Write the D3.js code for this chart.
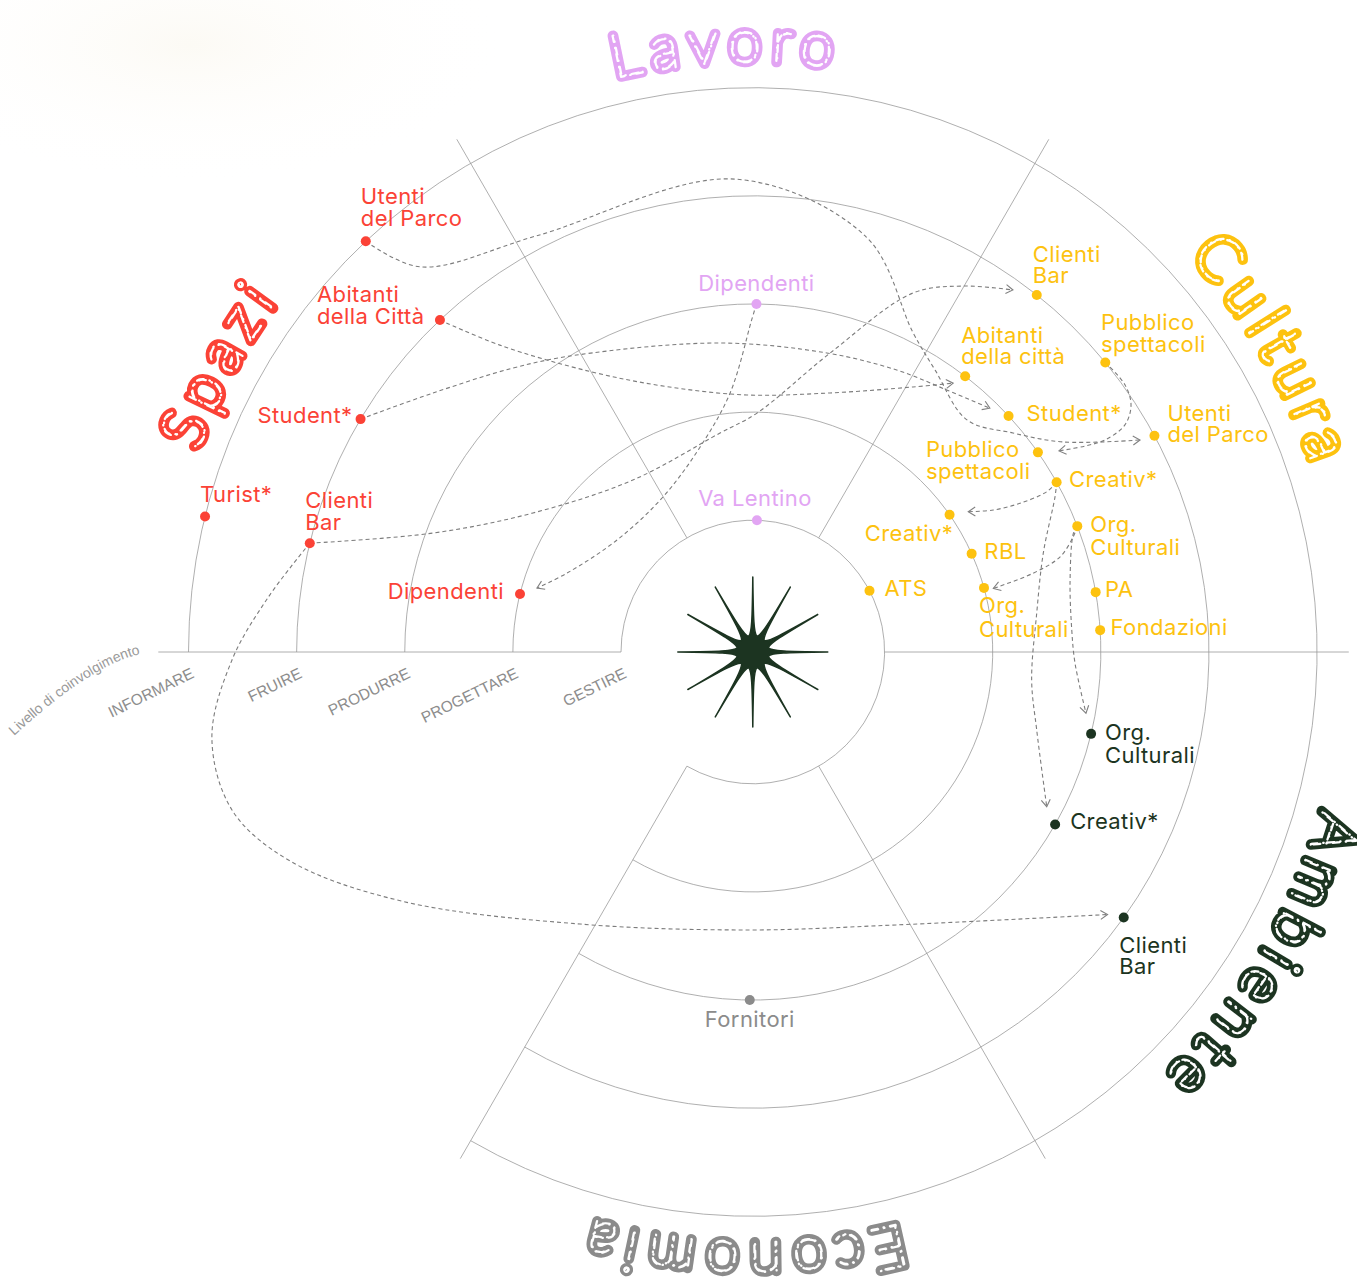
<!DOCTYPE html>
<html>
<head>
<meta charset="utf-8">
<script src="https://cdn.jsdelivr.net/npm/d3@7"></script>
<style>
	body { margin: 0; background: #fff; }
	#contents svg { display: block; }
</style>
</head>
<body>
<div id="contents"></div>
<script>
// livelli di coinvolgimento, dal centro verso l'esterno
var levels = ["GESTIRE", "PROGETTARE", "PRODURRE", "FRUIRE", "INFORMARE"];

var sectors = ["Spazi", "Lavoro", "Cultura", "Ambiente", "Economia"];
var sectorColors = ["#fb4236", "#e2a5f3", "#fdc20f", "#1c3421", "#8b8b8b"];

// nodi: [id, etichetta, livello, angolo (gradi)]
var spaziNodes = [
	["s_utenti", "Utenti\ndel Parco", "INFORMARE", 133.3],
	["s_abitanti", "Abitanti\ndella Città", "FRUIRE", 133.3],
	["s_student", "Student*", "FRUIRE", 149.3],
	["s_turist", "Turist*", "INFORMARE", 166.1],
	["s_clienti", "Clienti\nBar", "FRUIRE", 166.2],
	["s_dipendenti", "Dipendenti", "PROGETTARE", 166.0]
];
var lavoroNodes = [
	["l_dipendenti", "Dipendenti", "PRODURRE", 89.4],
	["l_valentino", "Va Lentino", "GESTIRE", 88.2]
];
var culturaNodes = [
	["c_clienti", "Clienti\nBar", "FRUIRE", 51.5],
	["c_pubblico1", "Pubblico\nspettacoli", "FRUIRE", 39.4],
	["c_utenti", "Utenti\ndel Parco", "FRUIRE", 28.3],
	["c_abitanti", "Abitanti\ndella città", "PRODURRE", 52.4],
	["c_student", "Student*", "PRODURRE", 42.7],
	["c_pubblico2", "Pubblico\nspettacoli", "PRODURRE", 35.0],
	["c_creativ1", "Creativ*", "PRODURRE", 29.2],
	["c_org1", "Org.\nCulturali", "PRODURRE", 21.2],
	["c_pa", "PA", "PRODURRE", 9.9],
	["c_fondazioni", "Fondazioni", "PRODURRE", 3.6],
	["c_creativ2", "Creativ*", "PROGETTARE", 34.9],
	["c_rbl", "RBL", "PROGETTARE", 24.2],
	["c_org2", "Org.\nCulturali", "PROGETTARE", 15.5],
	["c_ats", "ATS", "GESTIRE", 27.7]
];
var ambienteNodes = [
	["a_org", "Org.\nCulturali", "PRODURRE", -13.6],
	["a_creativ", "Creativ*", "PRODURRE", -29.7],
	["a_clienti", "Clienti\nBar", "FRUIRE", -35.6]
];
var economiaNodes = [
	["e_fornitori", "Fornitori", "PRODURRE", -90.5]
];

// collegamenti: [da, a, punti intermedi [angolo, livello]] (l'ultimo punto e' la punta della freccia)
var links = [
	["s_utenti", "c_utenti", [[130.8, 3.486], [117.5, 3.119], [92.2, 3.158], [74.7, 2.760], [63.3, 2.083], [57.1, 1.886], [47.3, 1.702], [40.1, 1.926], [34.1, 2.246], [28.7, 2.864]]],
	["s_abitanti", "c_abitanti", [[129.5, 2.459], [120.1, 1.779], [107.9, 1.360], [91.3, 1.159], [73.4, 1.281], [58.85, 1.645], [53.3, 1.882]]],
	["s_student", "c_student", [[141.0, 2.587], [130.2, 2.219], [120.7, 1.975], [96.1, 1.655], [76.1, 1.630], [62.96, 1.709], [53.5, 1.796], [45.8, 1.926]]],
	["s_clienti", "c_clienti", [[159.6, 1.937], [147.7, 1.187], [124.9, 0.720], [98.5, 0.829], [89.0, 0.991], [75.5, 1.637], [65.95, 2.417], [60.1, 2.685], [54.3, 2.904]]],
	["s_clienti", "a_clienti", [[173.6, 3.293], [180.9, 3.599], [189.0, 3.846], [196.9, 3.814], [204.3, 3.477], [215.4, 2.760], [237.6, 1.761], [269.4, 1.352], [297.7, 1.632], [323.5, 2.863]]],
	["l_dipendenti", "s_dipendenti", [[90.2, 1.852], [95.0, 1.186], [104.4, 0.739], [120.1, 0.438], [140.5, 0.409], [157.0, 0.648], [163.5, 0.863]]],
	["c_pubblico1", "c_pubblico2", [[35.65, 3.018], [33.15, 2.959], [31.4, 2.813], [31.05, 2.583], [31.8, 2.396], [33.3, 2.169]]],
	["c_creativ1", "c_creativ2", [[28.6, 1.877], [29.1, 1.609], [30.56, 1.364], [33.07, 1.159]]],
	["c_org1", "c_org2", [[19.8, 1.931], [17.2, 1.756], [15.7, 1.475], [14.8, 1.082]]],
	["c_creativ1", "a_creativ", [[27.2, 1.924], [18.8, 1.619], [7.76, 1.431], [-5.73, 1.373], [-15.36, 1.504], [-27.76, 1.853]]],
	["c_org1", "a_org", [[20.3, 1.942], [12.79, 1.790], [3.95, 1.738], [-2.0, 1.763], [-10.4, 1.914]]]
];

// posizione dei titoli (angolo del centro) e delle etichette
var titleAngles = [151.5, 92.5, 30, -31, -91];
var labelPos = {
	s_utenti: [-5, -37, "start"], s_abitanti: [-123, -18, "start"], s_student: [-8, 4, "end"],
	s_turist: [-5, -14, "start"], s_clienti: [-4.5, -35, "start"], s_dipendenti: [-16, 5, "end"],
	l_dipendenti: [0, -13, "middle"], l_valentino: [-2, -14, "middle"],
	c_clienti: [-4, -33, "start"], c_pubblico1: [-4.3, -32, "start"], c_utenti: [13, -15, "start"],
	c_abitanti: [-4, -33.4, "start"], c_student: [18, 5, "start"], c_pubblico2: [-112, 5, "start"],
	c_creativ1: [12.4, 5, "start"], c_org1: [13, 6, "start", 23], c_pa: [9.3, 5, "start"],
	c_fondazioni: [10.4, 5, "start"], c_creativ2: [3.6, 26, "end"], c_rbl: [12.7, 5, "start"],
	c_org2: [-5, 25.6, "start", 24], c_ats: [15, 5, "start"],
	a_org: [14, 6, "start", 23.5], a_creativ: [15, 5, "start"], a_clienti: [-4.4, 35, "start"],
	e_fornitori: [0, 27, "middle"]
};

var W = 1357, H = 1283;
var cx = 752.8, cy = 652;
var rScale = d3.scaleLinear().domain([0, levels.length - 1]).range([131.8, 564.3]);

function polar(a, lvl) {
	var r = rScale(lvl), t = a * Math.PI / 180;
	return [cx + r * Math.cos(t), cy - r * Math.sin(t)];
}

var svg = d3.select("#contents")
	.append("svg")
	.attr("width", W)
	.attr("height", H);

var defs = svg.append("defs");

// leggera macchia in alto a sinistra
var grad = defs.append("radialGradient").attr("id", "haze");
grad.append("stop").attr("offset", "0%").attr("stop-color", "#f9f5ea").attr("stop-opacity", 0.5);
grad.append("stop").attr("offset", "100%").attr("stop-color", "#fff").attr("stop-opacity", 0);
svg.append("ellipse")
	.attr("cx", 190).attr("cy", 45).attr("rx", 320).attr("ry", 140)
	.attr("fill", "url(#haze)");

defs.append("marker")
	.attr("id", "arrow")
	.attr("viewBox", "-10 -6 12 12")
	.attr("refX", 0).attr("refY", 0)
	.attr("markerWidth", 12).attr("markerHeight", 12)
	.attr("markerUnits", "userSpaceOnUse")
	.attr("orient", "auto")
	.append("path")
	.attr("d", "M-7,-4.5L0,0L-7,4.5")
	.attr("fill", "none")
	.attr("stroke", "#808080")
	.attr("stroke-width", 1.1);

// anelli (manca lo spicchio in basso a sinistra)
var rings = svg.append("g");
levels.forEach(function(l, i) {
	var r = rScale(i);
	var p = d3.path();
	p.moveTo(cx - r, cy);
	p.arc(cx, cy, r, Math.PI, Math.PI + 5 * Math.PI / 3, false);
	rings.append("path")
		.attr("d", p.toString())
		.attr("fill", "none")
		.attr("stroke", "#9a9a9a")
		.attr("stroke-width", 0.8);
});

// divisori tra i settori
var dividers = [[60, 592], [120, 592], [240, 585], [300, 585], [0, 596], [180, 594.5]];
dividers.forEach(function(d) {
	var t = d[0] * Math.PI / 180, r0 = rScale(0);
	rings.append("line")
		.attr("x1", cx + r0 * Math.cos(t)).attr("y1", cy - r0 * Math.sin(t))
		.attr("x2", cx + d[1] * Math.cos(t)).attr("y2", cy - d[1] * Math.sin(t))
		.attr("stroke", "#9a9a9a")
		.attr("stroke-width", 0.8);
});

// etichette dei livelli
var xLeft = d3.scaleLinear().domain([0, levels.length - 1]).range([cx - rScale(0), cx - rScale(levels.length - 1)]);
var axis = d3.axisBottom(xLeft)
	.tickValues(d3.range(levels.length))
	.tickFormat(function(i) { return levels[i]; })
	.tickSize(0);
var ag = svg.append("g")
	.attr("transform", "translate(0," + cy + ")")
	.call(axis);
ag.select(".domain").remove();
ag.selectAll("text")
	.attr("x", 0).attr("y", 0).attr("dy", 0)
	.attr("text-anchor", "end")
	.attr("transform", "translate(6,25) rotate(-26)")
	.attr("font-family", "Liberation Sans, Arial, sans-serif")
	.attr("font-size", 15.5)
	.attr("fill", "#8d8d8d");

defs.append("path")
	.attr("id", "axisTitlePath")
	.attr("d", "M14,736Q102,655 154,652");
svg.append("text")
	.attr("font-family", "Liberation Sans, Arial, sans-serif")
	.attr("font-size", 14)
	.attr("fill", "#9a9a9a")
	.append("textPath")
	.attr("href", "#axisTitlePath")
	.text("Livello di coinvolgimento");

// tutti i nodi
var groups = [spaziNodes, lavoroNodes, culturaNodes, ambienteNodes, economiaNodes];
var nodes = [];
groups.forEach(function(g, si) {
	g.forEach(function(n) {
		var p = polar(n[3], levels.indexOf(n[2]));
		nodes.push({ id: n[0], label: n[1], x: p[0], y: p[1], color: sectorColors[si] });
	});
});
var byId = {};
nodes.forEach(function(n) { byId[n.id] = n; });

// collegamenti tratteggiati
var line = d3.line().curve(d3.curveCatmullRom.alpha(0.5));
svg.append("g").selectAll("path")
	.data(links)
	.enter()
	.append("path")
	.attr("d", function(d) {
		var pts = [[byId[d[0]].x, byId[d[0]].y]];
		d[2].forEach(function(v) { pts.push(polar(v[0], v[1])); });
		return line(pts);
	})
	.attr("fill", "none")
	.attr("stroke", "#7c7c7c")
	.attr("stroke-width", 1.1)
	.attr("stroke-dasharray", "4 3")
	.attr("marker-end", "url(#arrow)");

// stella centrale
var star = d3.path();
var rad = Math.PI / 180;
function sp(a, r) { return [cx + r * Math.cos(a * rad), cy + r * Math.sin(a * rad)]; }
var v0 = sp(-15, 16);
star.moveTo(v0[0], v0[1]);
for (var k = 0; k < 12; k++) {
	var th = k * 30;
	var a1 = sp(th - 3, 19), a2 = sp(th - 0.9, 32), tip = sp(th, 75);
	var b2 = sp(th + 0.9, 32), b1 = sp(th + 3, 19), v1 = sp(th + 15, 16);
	star.bezierCurveTo(a1[0], a1[1], a2[0], a2[1], tip[0], tip[1]);
	star.bezierCurveTo(b2[0], b2[1], b1[0], b1[1], v1[0], v1[1]);
}
star.closePath();
svg.append("path")
	.attr("d", star.toString())
	.attr("fill", "#1c3421")
	.attr("stroke", "#1c3421")
	.attr("stroke-width", 1.5)
	.attr("stroke-linejoin", "round");

// punti
svg.append("g").selectAll("circle")
	.data(nodes)
	.enter()
	.append("circle")
	.attr("cx", function(d) { return d.x; })
	.attr("cy", function(d) { return d.y; })
	.attr("r", 5)
	.attr("fill", function(d) { return d.color; });

// etichette dei nodi
var labels = svg.append("g")
	.attr("font-family", "Inter, Roboto, sans-serif")
	.attr("font-size", 22)
	.attr("letter-spacing", 0.4);
nodes.forEach(function(n) {
	var lp = labelPos[n.id];
	var gap = lp[3] || 21.5;
	var t = labels.append("text")
		.attr("x", n.x + lp[0])
		.attr("y", n.y + lp[1])
		.attr("text-anchor", lp[2])
		.attr("fill", n.color);
	n.label.split("\n").forEach(function(s, i) {
		t.append("tspan")
			.attr("x", n.x + lp[0])
			.attr("dy", i ? gap : 0)
			.text(s);
	});
});

// titoli dei settori, lungo un cerchio
var R = 590;
defs.append("path")
	.attr("id", "titlePath")
	.attr("d", "M" + (cx - R) + "," + cy +
		"A" + R + "," + R + " 0 1 1 " + (cx + R) + "," + cy +
		"A" + R + "," + R + " 0 1 1 " + (cx - R) + "," + cy);
sectors.forEach(function(s, i) {
	var off = ((180 - titleAngles[i] + 360) % 360) * Math.PI / 180 * R;
	[0, 1].forEach(function(layer) {
		var t = svg.append("text")
			.attr("font-family", "Lato, sans-serif")
			.attr("font-weight", 100)
			.attr("font-size", 60)
			.attr("letter-spacing", 9.5)
			.attr("stroke-linejoin", "round")
			.attr("stroke-linecap", "round");
		if (layer == 0)
			t.attr("fill", sectorColors[i]).attr("stroke", sectorColors[i]).attr("stroke-width", 10);
		else
			t.attr("fill", "none").attr("stroke", "#fff").attr("stroke-width", 2.2).attr("stroke-dasharray", "7 6 0.5 6");
		t.append("textPath")
			.attr("href", "#titlePath")
			.attr("startOffset", off)
			.attr("text-anchor", "middle")
			.text(s);
	});
});
</script>
</body>
</html>
